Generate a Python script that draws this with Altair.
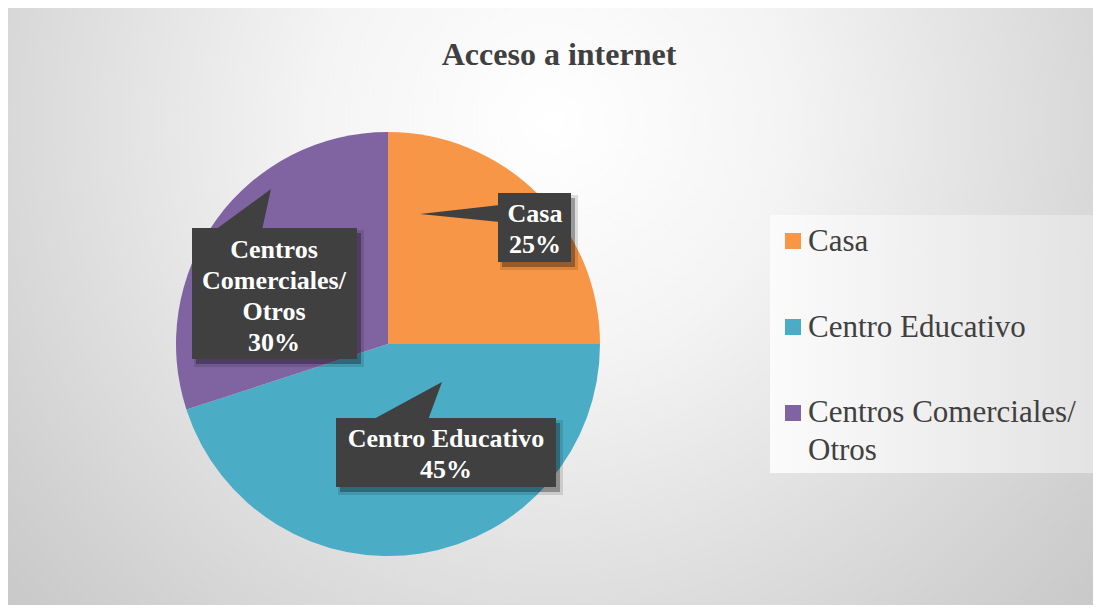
import altair as alt
import pandas as pd

# ---------------- data ----------------
categories = ["Casa", "Centro Educativo", "Centros Comerciales/ Otros"]
values = [25, 45, 30]
box_labels = ["Casa\n25%", "Centro Educativo\n45%", "Centros\nComerciales/\nOtros\n30%"]
legend_labels = ["Casa", "Centro Educativo", "Centros Comerciales/\nOtros"]
title_text = "Acceso a internet"

# ---------------- styling / layout ----------------
colors = ["#F79646", "#4BACC6", "#8064A2"]
W, H = 1085, 597
OFF = 8  # page margin, layout numbers below are page pixels

def c(v):
    return v - OFF

CX, CY, R = c(388), c(344), 212

# label boxes (page px): x0, x1, y0, y1, text-center x, first baseline
box_layout = [
    (498, 571, 193, 262, 535, 222),
    (336, 556, 418, 487, 446, 447),
    (192, 357, 228, 359, 274, 258),
]
# legend rows (page px): square center y, first text baseline
legend_layout = [(241, 251), (327, 337), (413, 422)]

xs = alt.Scale(domain=[0, W], nice=False, zero=False)
ys = alt.Scale(domain=[0, H], nice=False, zero=False, reverse=True)
cs = alt.Scale(domain=categories, range=colors)

one = pd.DataFrame({"k": [0]})

# background with radial gradient
bg = alt.Chart(one).mark_rect(
    fill=alt.RadialGradient(
        gradient="radial",
        stops=[
            alt.GradientStop(offset=0, color="#ffffff"),
            alt.GradientStop(offset=0.3, color="#f4f4f4"),
            alt.GradientStop(offset=0.8, color="#d1d1d1"),
            alt.GradientStop(offset=1, color="#c4c4c4"),
        ],
        x1=0.5, y1=0.33, x2=0.5, y2=0.33, r1=0, r2=0.72,
    )
).encode(x=alt.value(0), x2=alt.value(W), y=alt.value(0), y2=alt.value(H))

# pie
pie_df = pd.DataFrame({"cat": categories, "val": values, "idx": list(range(len(values)))})
pie = alt.Chart(pie_df).mark_arc(radius=R, strokeWidth=0).encode(
    theta=alt.Theta("val:Q", stack=True),
    color=alt.Color("cat:N", scale=cs, legend=None),
    order=alt.Order("idx:Q"),
    x=alt.value(CX),
    y=alt.value(CY),
)

# title
title = alt.Chart(one).mark_text(
    text=title_text, font="Liberation Serif", fontWeight="bold", fontSize=32,
    color="#404040", align="center", baseline="alphabetic",
).encode(x=alt.value(c(559)), y=alt.value(c(65)))

# label boxes
box_df = pd.DataFrame({
    "cat": categories,
    "label": box_labels,
    "x0": [c(b[0]) for b in box_layout],
    "x1": [c(b[1]) for b in box_layout],
    "y0": [c(b[2]) for b in box_layout],
    "y1": [c(b[3]) for b in box_layout],
    "tx": [c(b[4]) for b in box_layout],
    "ty": [c(b[5]) for b in box_layout],
})
box_df["sx0"] = box_df["x0"] + 4
box_df["sx1"] = box_df["x1"] + 4
box_df["sy0"] = box_df["y0"] + 5
box_df["sy1"] = box_df["y1"] + 5
box_df["bx0"] = box_df["x0"] + 2
box_df["bx1"] = box_df["x1"] + 7
box_df["by0"] = box_df["y0"] + 2
box_df["by1"] = box_df["y1"] + 8

shadow2 = alt.Chart(box_df).mark_rect(color="#000000", opacity=0.12).encode(
    x=alt.X("bx0:Q", scale=xs, axis=None), x2="bx1:Q",
    y=alt.Y("by0:Q", scale=ys, axis=None), y2="by1:Q",
)
shadow = alt.Chart(box_df).mark_rect(color="#000000", opacity=0.3).encode(
    x=alt.X("sx0:Q", scale=xs, axis=None), x2="sx1:Q",
    y=alt.Y("sy0:Q", scale=ys, axis=None), y2="sy1:Q",
)
boxes = alt.Chart(box_df).mark_rect(color="#404040").encode(
    x=alt.X("x0:Q", scale=xs, axis=None), x2="x1:Q",
    y=alt.Y("y0:Q", scale=ys, axis=None), y2="y1:Q",
)
box_text = alt.Chart(box_df).mark_text(
    font="Liberation Serif", fontWeight="bold", fontSize=26, color="#ffffff",
    align="center", baseline="alphabetic", lineBreak="\n", lineHeight=31,
).encode(
    x=alt.X("tx:Q", scale=xs, axis=None),
    y=alt.Y("ty:Q", scale=ys, axis=None),
    text="label:N",
)

# callout pointers (page px) — Casa points left (vertical base)
ptr_v = pd.DataFrame({
    "px": [c(420), c(500)],
    "py": [c(214), c(205)],
    "py2": [c(214), c(222)],
})
ptr_v_mark = alt.Chart(ptr_v).mark_area(color="#404040", orient="vertical").encode(
    x=alt.X("px:Q", scale=xs, axis=None),
    y=alt.Y("py:Q", scale=ys, axis=None),
    y2="py2:Q",
)
ptr_h = pd.DataFrame({
    "id": ["a", "a", "b", "b"],
    "py": [c(189), c(230), c(382), c(420)],
    "px": [c(271), c(215), c(442), c(372)],
    "px2": [c(271), c(262), c(442), c(428)],
})
ptr_h_mark = alt.Chart(ptr_h).mark_area(color="#404040", orient="horizontal").encode(
    y=alt.Y("py:Q", scale=ys, axis=None),
    x=alt.X("px:Q", scale=xs, axis=None),
    x2="px2:Q",
    detail="id:N",
)

# legend
leg_bg = alt.Chart(one).mark_rect(
    fill=alt.LinearGradient(
        gradient="linear",
        stops=[
            alt.GradientStop(offset=0, color="#fbfbfb"),
            alt.GradientStop(offset=1, color="#e3e3e3"),
        ],
        x1=0, y1=0.5, x2=1, y2=0.5,
    )
).encode(x=alt.value(c(770)), x2=alt.value(min(c(1095), W)), y=alt.value(c(215)), y2=alt.value(c(473)))

leg_df = pd.DataFrame({
    "cat": categories,
    "label": legend_labels,
    "sx": [c(793)] * 3,
    "sy": [c(r[0]) for r in legend_layout],
    "tx": [c(808)] * 3,
    "ty": [c(r[1]) for r in legend_layout],
})
leg_sq = alt.Chart(leg_df).mark_square(size=256, opacity=1, filled=True).encode(
    x=alt.X("sx:Q", scale=xs, axis=None),
    y=alt.Y("sy:Q", scale=ys, axis=None),
    color=alt.Color("cat:N", scale=cs, legend=None),
)
leg_txt = alt.Chart(leg_df).mark_text(
    font="Liberation Serif", fontSize=31, color="#404040",
    align="left", baseline="alphabetic", lineBreak="\n", lineHeight=38,
).encode(
    x=alt.X("tx:Q", scale=xs, axis=None),
    y=alt.Y("ty:Q", scale=ys, axis=None),
    text="label:N",
)

chart = alt.layer(
    bg, pie, title, shadow2, shadow, ptr_v_mark, ptr_h_mark, boxes, box_text,
    leg_bg, leg_sq, leg_txt,
).properties(width=W, height=H, padding=0).configure_view(stroke=None)

chart.save("out.html", embed_options={"renderer": "svg", "actions": False})
